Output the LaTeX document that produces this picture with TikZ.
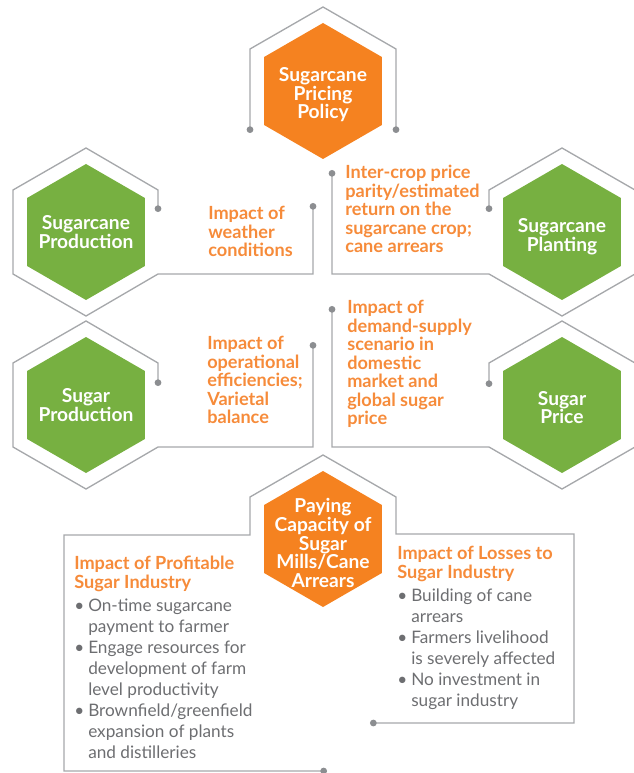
\documentclass[tikz,border=0pt]{standalone}
\usepackage{fontspec}
\setmainfont{Lato}
\usetikzlibrary{shapes.geometric,positioning,arrows.meta}
\definecolor{hexorange}{HTML}{F58220}
\definecolor{txtorange}{HTML}{F68B3A}
\definecolor{hexgreen}{HTML}{77B041}
\definecolor{linegray}{HTML}{A6A8AB}
\definecolor{dotgray}{HTML}{8C8E91}
\definecolor{txtgray}{HTML}{6D6E71}
\begin{document}
\begin{tikzpicture}[x=0.75pt,y=-0.75pt,
    hex/.style={regular polygon,regular polygon sides=6,shape border rotate=30,minimum size=102pt,inner sep=0pt},
    hexlabel/.style={text=white,font=\bfseries\fontsize{14.4}{13.9}\selectfont,align=center,inner sep=0pt},
    hexframe/.style={draw=linegray,line width=1pt,{Circle[length=5pt,color=dotgray]}-{Circle[length=5pt,color=dotgray]}},
    impact/.style={text=txtorange,font=\bfseries\fontsize{13.6}{13.9}\selectfont,align=left,anchor=north west,inner sep=0pt},
    bullets/.style={text=txtgray,font=\fontsize{12.9}{15.75}\selectfont,inner sep=0pt}]
    \useasboundingbox (0,0) rectangle (634,773);

    % hexagons
    \node[hex,fill=hexorange] (policy) at (323,91) {};
    \node[hexlabel,yshift=-3pt] at (policy) {Sugarcane\\Pricing\\Policy};
    \node[hex,fill=hexgreen] (caneprod) at (86,232) {};
    \node[hexlabel] at (caneprod) {Sugarcane\\Production};
    \node[hex,fill=hexgreen] (planting) at (562,232) {};
    \node[hexlabel,yshift=-3.5pt] at (planting) {Sugarcane\\Planting};
    \node[hex,fill=hexgreen] (sugprod) at (86,405) {};
    \node[hexlabel] at (sugprod) {Sugar\\Production};
    \node[hex,fill=hexgreen] (price) at (562,405) {};
    \node[hexlabel,yshift=-2pt] at (price) {Sugar\\Price};
    \node[hex,fill=hexorange] (paying) at (323,539) {};
    \node[hexlabel,yshift=-3pt] at (paying) {Paying\\Capacity of\\Sugar\\Mills/Cane\\Arrears};

    % outlines around the hexagons
    \draw[hexframe] (250,133) -- (250,49) -- (323,7) -- (396,49) -- (396,133);
    \draw[hexframe] (158,212) -- (158,190) -- (86,148) -- (13,190) -- (13,274) -- (86,316) -- (158,274) -- (313,274) -- (313,203);
    \draw[hexframe] (332,170) -- (332,274) -- (489,274) -- (562,316) -- (635,274) -- (635,190) -- (562,148) -- (489,190) -- (489,212);
    \draw[hexframe] (158,386) -- (158,363) -- (86,321) -- (13,363) -- (13,447) -- (86,489) -- (158,447) -- (313,447) -- (313,342);
    \draw[hexframe] (332,306) -- (332,447) -- (489,447) -- (562,489) -- (635,447) -- (635,363) -- (562,321) -- (489,363) -- (489,387);
    \draw[hexframe] (327,771) -- (64,771) -- (64,535) -- (250,535) -- (250,497) -- (323,455) -- (396,497) -- (396,534) -- (574,534) -- (574,723) -- (370,723);

    % impact texts
    \node[impact] (weather) at (208,206) {Impact of\\weather\\conditions};
    \node[impact] (parity) at (345,165) {Inter-crop price\\parity/estimated\\return on the\\sugarcane crop;\\cane arrears};
    \node[impact] (operation) at (207,336) {Impact of\\operational\\efficiencies;\\Varietal\\balance};
    \node[impact] (demand) at (347,300) {Impact of\\demand-supply\\scenario in\\domestic\\market and\\global sugar\\price};

    \node[impact,font=\bfseries\fontsize{13.6}{14.3}\selectfont] (profit) at (74,556) {Impact of Profitable\\Sugar Industry};
    \node[bullets,below right=3pt and 0pt of profit.south west] (profitlist) {%
        \begin{tabular}{@{}p{10.5pt}@{}l@{}}
        \textbullet & On-time sugarcane\\
                    & payment to farmer\\
        \textbullet & Engage resources for\\
                    & development of farm\\
                    & level productivity\\
        \textbullet & Brownfield/greenfield\\
                    & expansion of plants\\
                    & and distilleries
        \end{tabular}};
    \node[impact,font=\bfseries\fontsize{13.6}{14.3}\selectfont] (losses) at (397,546) {Impact of Losses to\\Sugar Industry};
    \node[bullets,below right=3pt and 0pt of losses.south west] (losslist) {%
        \begin{tabular}{@{}p{10.5pt}@{}l@{}}
        \textbullet & Building of cane\\
                    & arrears\\
        \textbullet & Farmers livelihood\\
                    & is severely affected\\
        \textbullet & No investment in\\
                    & sugar industry
        \end{tabular}};
\end{tikzpicture}
\end{document}
